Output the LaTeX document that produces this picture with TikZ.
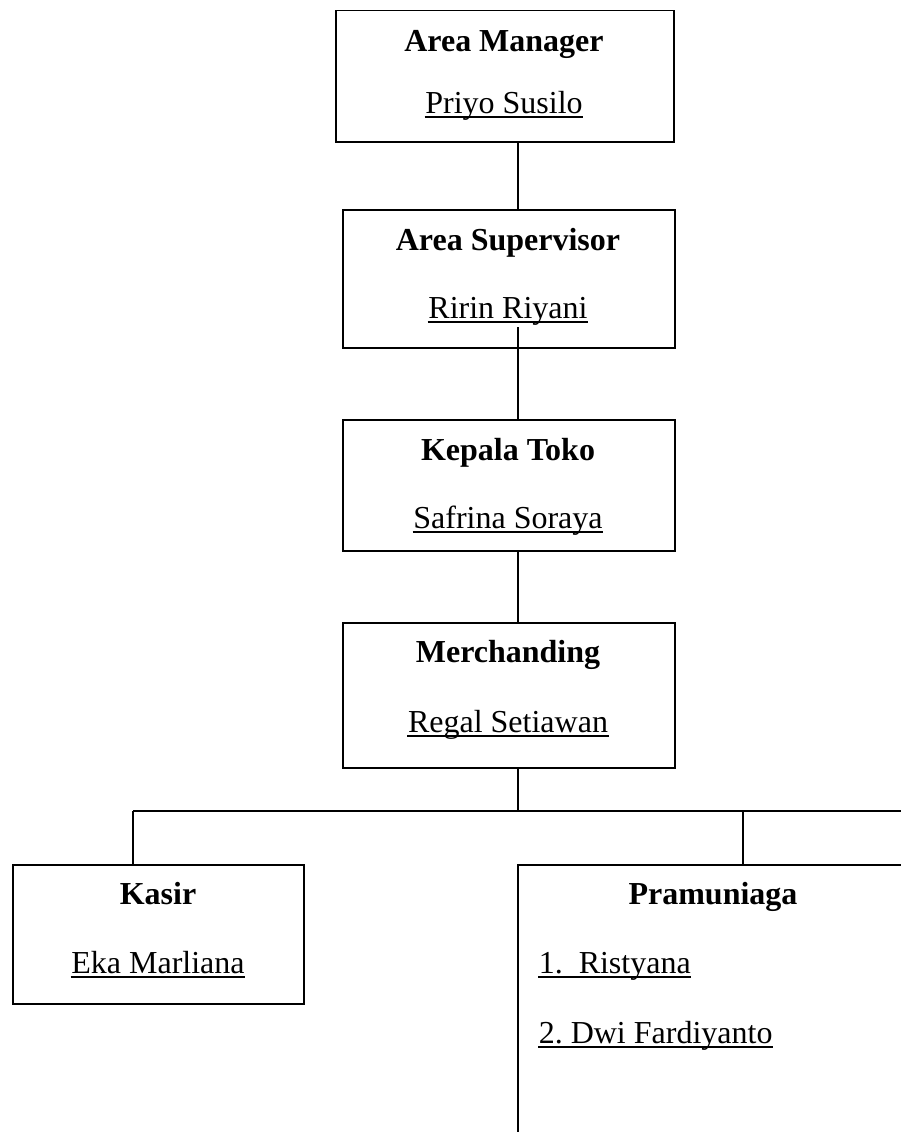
\documentclass[tikz,border=0pt]{standalone}
\usepackage{fontspec}
\setmainfont{Liberation Serif}
\begin{document}
\begin{tikzpicture}[x=1pt,y=-1pt,line width=1.5pt,
  box/.style={draw,line width=1.5pt,rectangle,inner sep=0pt,anchor=north west},
  ttl/.style={font=\fontsize{32}{38}\selectfont\bfseries,inner sep=0pt,anchor=base},
  nm/.style={font=\fontsize{32}{38}\selectfont,inner sep=0pt,anchor=base},
  ul/.style={line width=2.6pt}]
\clip (0,0) rectangle (901,1132);
\fill[white] (0,0) rectangle (901,1132);
% boxes
\node[box,minimum width=338pt,minimum height=131pt] (b1) at (335,10) {};
\node[box,minimum width=332pt,minimum height=138pt] (b2) at (342,209) {};
\node[box,minimum width=332pt,minimum height=131pt] (b3) at (342,419) {};
\node[box,minimum width=332pt,minimum height=145pt] (b4) at (342,622) {};
\node[box,minimum width=291pt,minimum height=139pt] (b5) at (12,864) {};
\node[box,minimum width=420pt,minimum height=300pt] (b6) at (517,864) {};
% texts
\node[ttl] (t1) at (504,52) {Area Manager};
\node[nm] (n1) at (504,113) {Priyo Susilo};
\node[ttl] (t2) at (508,250) {Area Supervisor};
\node[nm] (n2) at (508,318) {Ririn Riyani};
\node[ttl] (t3) at (508,460) {Kepala Toko};
\node[nm] (n3) at (508,528) {Safrina Soraya};
\node[ttl] (t4) at (508,662) {Merchanding};
\node[nm] (n4) at (508,732) {Regal Setiawan};
\node[ttl] (t5) at (158,904) {Kasir};
\node[nm] (n5) at (158,973) {Eka Marliana};
\node[ttl] (t6) at (713,904) {Pramuniaga};
\node[nm,anchor=base west] (n6) at (538,973) {1.\ \ Ristyana};
\node[nm,anchor=base west] (n7) at (538,1043) {2.\ Dwi Fardiyanto};
% underlines
\foreach \n in {n1,n2,n3,n4,n5,n6,n7}
  \draw[ul] ([yshift=-4pt]\n.base west) -- ([yshift=-4pt]\n.base east);
% connectors
\coordinate (s1) at (518,141);
\coordinate (s2) at (518,327);
\coordinate (s3) at (518,550);
\coordinate (s4) at (518,767);
\coordinate (bus) at (518,811);
\coordinate (busL) at (133,811);
\coordinate (busR) at (901,811);
\coordinate (busP) at (743,811);
\draw (s1) -- (s1 |- b2.north);
\draw (s2) -- (s2 |- b3.north);
\draw (s3) -- (s3 |- b4.north);
\draw (s4) -- (bus);
\draw (busL) -- (busR);
\draw (busL) -- (busL |- b5.north);
\draw (busP) -- (busP |- b6.north);
\end{tikzpicture}
\end{document}
